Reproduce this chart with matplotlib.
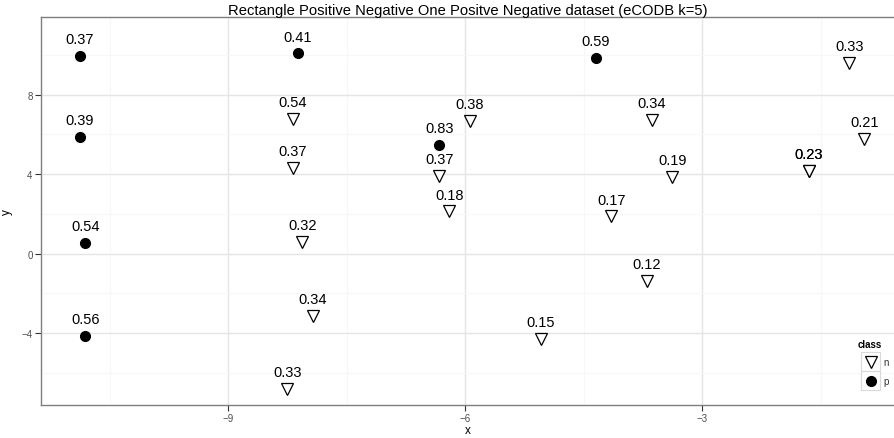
import matplotlib
matplotlib.use("Agg")
import matplotlib.pyplot as plt
from matplotlib.patches import Rectangle
from matplotlib.lines import Line2D

plt.rcParams["font.family"] = ["Liberation Sans", "DejaVu Sans"]

# ---- data ----
p_x = [-10.88, -10.88, -10.81, -10.81, -8.12, -6.33, -4.35]
p_y = [9.96, 5.86, 0.53, -4.14, 10.08, 5.46, 9.86]
p_lab = ["0.37", "0.39", "0.54", "0.56", "0.41", "0.83", "0.59"]

n_x = [-8.18, -8.18, -8.06, -7.93, -8.25, -6.33, -6.20, -5.94, -3.64, -3.38,
       -4.15, -3.70, -5.04, -1.65, -1.65, -1.14, -0.95]
n_y = [6.78, 4.32, 0.60, -3.14, -6.81, 3.93, 2.13, 6.68, 6.74, 3.85,
       1.87, -1.38, -4.27, 4.15, 4.15, 9.59, 5.77]
n_lab = ["0.54", "0.37", "0.32", "0.34", "0.33", "0.37", "0.18", "0.38", "0.34", "0.19",
         "0.17", "0.12", "0.15", "0.23", "0.23", "0.33", "0.21"]

classes = ["n", "p"]
x_ticks = [-9, -6, -3]
y_ticks = [-4, 0, 4, 8]
x_minor = [-10.5, -7.5, -4.5, -1.5]
y_minor = [-6, -2, 2, 6, 10]
title = "Rectangle Positive Negative One Positve Negative dataset (eCODB k=5)"

W, H = 895, 439
fig = plt.figure(figsize=(W / 100, H / 100), dpi=100)
ax = fig.add_axes([41 / W, 1 - 405.7 / H, 1 - 41 / W, (405.7 - 18.3) / H])
ax.set_xlim(-11.37, -0.56)
ax.set_ylim(-7.6, 11.89)

ax.set_xticks(x_ticks)
ax.set_xticklabels(["\u22129", "\u22126", "\u22123"])
ax.set_yticks(y_ticks)
ax.set_yticklabels(["\u22124", "0", "4", "8"])
ax.set_xticks(x_minor, minor=True)
ax.set_yticks(y_minor, minor=True)
ax.tick_params(which="minor", length=0)
ax.tick_params(which="major", length=4, width=0.8, color="#333333",
               labelsize=7, labelcolor="#4d4d4d", pad=2)
ax.grid(which="major", color="#e5e5e5", linewidth=1.0)
ax.grid(which="minor", color="#f7f7f7", linewidth=0.8)
ax.set_axisbelow(True)
for s in ["left", "bottom", "top"]:
    ax.spines[s].set_color("#7f7f7f")
    ax.spines[s].set_linewidth(1.0)
ax.spines["right"].set_visible(False)

ax.plot(p_x, p_y, "o", color="black", markersize=7, linestyle="none", zorder=3)
ax.plot(n_x, n_y, "v", markerfacecolor="white", markeredgecolor="black",
        markersize=9, markeredgewidth=0.9, linestyle="none", zorder=3)

for x, y, t in list(zip(p_x, p_y, p_lab)) + list(zip(n_x, n_y, n_lab)):
    ax.annotate(t, (x, y), xytext=(0, 12), textcoords="offset points",
                ha="center", va="center", fontsize=10.5, color="black", zorder=4)

ax.set_xlabel("x", fontsize=8.5, labelpad=1)
ax.set_ylabel("y", fontsize=8.5, labelpad=6)
ax.set_title(title, fontsize=10.6, pad=2)

# ---- legend (manual, ggplot-like) ----
def fx(px):
    return px / W

def fy(py):
    return 1 - py / H

fig.text(fx(870), fy(345), "class", fontsize=7, fontweight="bold",
         ha="center", va="center")
key_left, key_w, key_h, key_top = 861.3, 19, 19, 353.3
for i, c in enumerate(classes):
    top = key_top + i * key_h
    fig.add_artist(Rectangle((fx(key_left), fy(top + key_h)), key_w / W, key_h / H,
                             transform=fig.transFigure, facecolor="white",
                             edgecolor="#d9d9d9", linewidth=0.8))
    cx, cy = key_left + key_w / 2, top + key_h / 2
    if c == "n":
        m = Line2D([fx(cx)], [fy(cy)], marker="v", markersize=9,
                   markerfacecolor="white", markeredgecolor="black",
                   markeredgewidth=0.9, transform=fig.transFigure)
    else:
        m = Line2D([fx(cx)], [fy(cy)], marker="o", markersize=7,
                   color="black", transform=fig.transFigure)
    fig.add_artist(m)
    fig.text(fx(key_left + key_w + 3), fy(cy), c, fontsize=7, color="#333333",
             ha="left", va="center")

fig.savefig("out.png", dpi=100)
